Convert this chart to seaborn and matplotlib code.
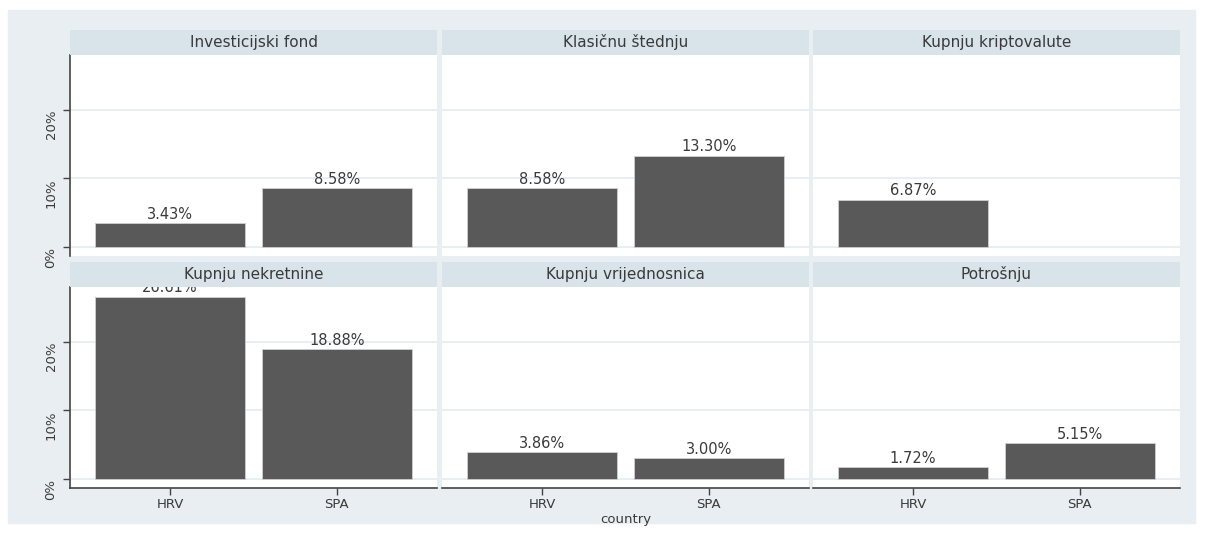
import numpy as np
import pandas as pd
import seaborn as sns
import matplotlib.pyplot as plt
from matplotlib.patches import Rectangle

# data (percent)
panels = ["Investicijski fond", "Klasičnu štednju", "Kupnju kriptovalute",
          "Kupnju nekretnine", "Kupnju vrijednosnica", "Potrošnju"]
countries = ["HRV", "SPA"]
hrv = [3.43, 8.58, 6.87, 26.61, 3.86, 1.72]
spa = [8.58, 13.30, np.nan, 18.88, 3.00, 5.15]

df = pd.DataFrame({
    "panel": np.repeat(panels, 2),
    "country": countries * len(panels),
    "value": [v for pair in zip(hrv, spa) for v in pair],
})

sns.set_style("white")
plt.rcParams['font.family'] = ['DejaVu Sans']

W, H = 1206, 533
fig = plt.figure(figsize=(W / 100, H / 100), dpi=100, facecolor="white")

# outer graph region
fig.patches.append(Rectangle((8 / W, 1 - 523 / H), (1195 - 8) / W, (523 - 10) / H,
                             transform=fig.transFigure, color="#e8eef1", zorder=-10))

bar_col = "#595959"
strip_col = "#d9e4ea"
txt_col = "#3a3a3a"
col_x = [70, 442, 813]
col_w = 367
row_top = [55, 287]     # top of plot area (px from top)
ax_h = 201
strip_h = 25

for i, name in enumerate(panels):
    r, c = divmod(i, 3)
    x0 = col_x[c]
    y_top = row_top[r]
    ax = fig.add_axes([x0 / W, 1 - (y_top + ax_h) / H, col_w / W, ax_h / H])
    sub = df[df["panel"] == name]
    sns.barplot(data=sub, x="country", y="value", order=countries, ax=ax,
                color=bar_col, width=0.9, saturation=1, edgecolor="#cfcfcf",
                linewidth=0.6, zorder=3)
    ax.set_xlim(-0.6, 1.6)
    ax.set_ylim(-1.35, 28.0)
    ax.set_facecolor("white")
    ax.set_yticks([0, 10, 20])
    for yv in [0, 10, 20]:
        ax.axhline(yv, color="#e6eef2", lw=1.3, zorder=1)
    ax.set_xlabel("")
    ax.set_ylabel("")

    for k, v in enumerate(sub["value"]):
        if not np.isnan(v):
            ax.text(k, v + 0.2, f"{v:.2f}%", ha="center", va="bottom",
                    fontsize=10.5, color=txt_col, zorder=4)

    for s in ax.spines.values():
        s.set_visible(False)
    if c == 0:
        ax.spines["left"].set_visible(True)
        ax.spines["left"].set_color("#444444")
        ax.spines["left"].set_linewidth(1.2)
        ax.set_yticklabels(["0%", "10%", "20%"], rotation=90, va="top",
                           fontsize=9.5, color=txt_col)
        ax.tick_params(axis="y", length=5, width=1, color="#444444", pad=4, left=True)
    else:
        ax.tick_params(axis="y", left=False, labelleft=False)
    if r == 1:
        ax.spines["bottom"].set_visible(True)
        ax.spines["bottom"].set_color("#444444")
        ax.spines["bottom"].set_linewidth(1.2)
        ax.tick_params(axis="x", length=5, width=1, color="#444444",
                       labelsize=9.5, labelcolor=txt_col, pad=2, bottom=True)
    else:
        ax.tick_params(axis="x", bottom=False, labelbottom=False)

    # strip header
    sax = fig.add_axes([x0 / W, 1 - y_top / H, col_w / W, strip_h / H])
    sax.set_facecolor(strip_col)
    sax.set_xticks([])
    sax.set_yticks([])
    for s in sax.spines.values():
        s.set_visible(False)
    sax.text(0.5, 0.5, name, ha="center", va="center", fontsize=11,
             color=txt_col, transform=sax.transAxes)

fig.text((442 + col_w / 2) / W, 1 - 519 / H, "country", ha="center",
         va="center", fontsize=9.5, color=txt_col)

fig.savefig("out.png", dpi=100, facecolor="white")
